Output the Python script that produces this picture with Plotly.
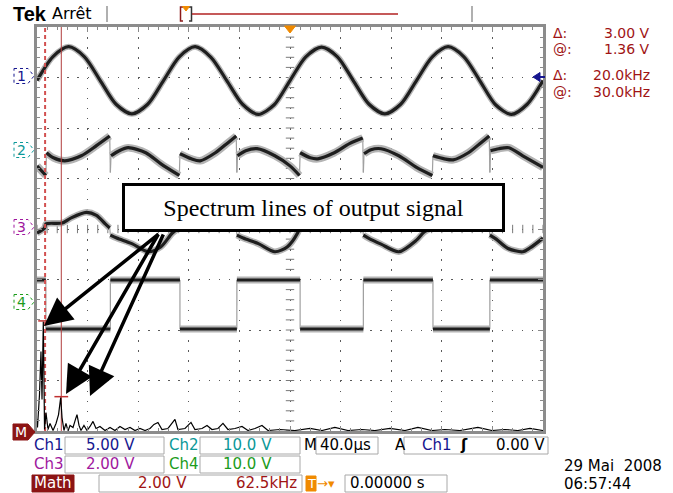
import numpy as np
import plotly.graph_objects as go

# ---------------- data read from the scope screen ----------------
# time base: microseconds (40 us/div, trigger at 0); vertical: screen divisions
t_ch1 = [-200, -187.5, -175, -162.5, -150, -137.5, -125, -112.5, -100, -87.5, -75, -62.5,
         -50, -37.5, -25, -12.5, 0, 12.5, 25, 37.5, 50, 62.5, 75, 87.5, 100, 112.5, 125,
         137.5, 150, 162.5, 175, 187.5, 200]
ch1_div = [2.94, 3.41, 3.61, 3.41, 2.94, 2.47, 2.28, 2.47, 2.94, 3.41, 3.61, 3.40,
           2.94, 2.47, 2.27, 2.46, 2.94, 3.41, 3.60, 3.41, 2.94, 2.47, 2.28, 2.47, 2.94,
           3.41, 3.61, 3.41, 2.94, 2.46, 2.27, 2.47, 2.94]

t_ch2 = [-200, -193, -192.5, -187, -178, -165, -153, -142.5, -142, -141.5, -135, -128, -114,
         -102, -87.5, -87, -78, -71, -59, -49, -42.5, -42, -41.5, -35, -26, -12, 0, 7.5, 8,
         16, 22, 35, 47, 57.5, 58, 58.5, 64, 72, 86, 100, 112.5, 113, 122, 129, 141, 151,
         157.5, 158, 158.5, 165, 173, 184, 200]
ch2_div = [1.25, 1.06, 1.51, 1.41, 1.35, 1.45, 1.65, 1.84, 1.12, 1.45, 1.55, 1.61, 1.51,
           1.29, 1.06, 1.49, 1.39, 1.35, 1.51, 1.71, 1.84, 1.12, 1.45, 1.55, 1.59, 1.45,
           1.25, 1.06, 1.51, 1.41, 1.39, 1.51, 1.69, 1.80, 1.12, 1.49, 1.57, 1.59, 1.45,
           1.22, 1.06, 1.45, 1.39, 1.37, 1.51, 1.71, 1.84, 1.12, 1.55, 1.59, 1.61, 1.45, 1.22]

t_ch3 = [-200, -194, -193, -180, -173, -161, -153, -146, -142.5, -142, -137, -125, -112,
         -102, -93, -87.5, -87, -80, -73, -61, -53, -46, -42.5, -42, -37, -25, -12, -2, 6,
         7.5, 8, 14, 21, 33, 41, 51, 57.5, 58, 62, 72, 86, 100, 106, 112.5, 113, 119, 126,
         138, 146, 153, 157.5, 158, 163, 172, 184, 190, 200]
ch3_div = [-0.08, 0.02, 0.10, 0.12, 0.22, 0.33, 0.27, 0.10, 0.02, -0.12, -0.18, -0.29, -0.45,
           -0.35, -0.08, 0.02, 0.10, 0.12, 0.22, 0.33, 0.27, 0.10, 0.02, -0.12, -0.18, -0.29,
           -0.45, -0.35, -0.08, 0.02, 0.10, 0.12, 0.22, 0.33, 0.27, 0.10, 0.02, -0.12, -0.18,
           -0.30, -0.45, -0.22, -0.06, 0.02, 0.10, 0.12, 0.22, 0.33, 0.27, 0.10, 0.02, -0.12,
           -0.20, -0.38, -0.45, -0.37, -0.18]

ch4_edges = [-193, -142, -87, -42, 8, 58, 113, 158]   # switching instants (us)
ch4_levels = [-1.01, -1.98]                            # high, low (div)

# Math = FFT of the output: frequency (kHz, 62.5 kHz/div), magnitude (V, 2 V/div)
fft_khz = [0, 0.6, 3.1, 4.9, 6.2, 7.8, 9.3, 11.1, 13.6, 16.1, 19.8, 23.5, 26.6, 29.3, 30.9,
           33.3, 35.8, 38.3, 40.8, 44.5, 47.5, 49.4, 51.9, 54.3, 58.0, 61.8, 65.5, 69.2, 72.9,
           77.8, 84.0, 90.2, 96.3, 102.5, 108.7, 114.9, 121.0, 127.2, 133.4, 139.6, 144.5,
           149.4, 154.4, 161.8, 170.4, 174.1, 182.8, 190.2, 195.1, 203.8, 210.0, 216.1, 223.5,
           229.7, 235.9, 244.5, 253.2, 260.6, 269.2, 277.9, 285.3, 300.1, 318.6, 337.2, 352.0,
           368.0, 384.1, 401.4, 417.4, 436.0, 454.5, 470.5, 487.8, 503.9, 522.4, 544.6, 561.9,
           578.0, 594.0, 608.9, 625]
fft_v = [0.46, 0.14, 1.45, 3.15, 1.25, 4.34, 0.06, 0.73, 0.06, 0.30, 0.02, 0.30, 0.65, 1.33,
         0.53, 0.02, 0.30, 0.00, 0.22, 0.14, 0.46, 0.65, 0.22, 0.02, 0.22, 0.02, 0.18, 0.38,
         0.10, 0.18, 0.02, 0.14, 0.02, 0.18, 0.06, 0.14, 0.02, 0.10, 0.02, 0.10, 0.26, 0.34,
         0.06, 0.10, 0.46, 0.06, 0.10, 0.34, 0.06, 0.10, 0.22, 0.06, 0.10, 0.30, 0.06, 0.10,
         0.18, 0.02, 0.10, 0.22, 0.02, 0.06, 0.02, 0.10, 0.02, 0.14, 0.02, 0.06, 0.02, 0.10,
         0.02, 0.14, 0.02, 0.06, 0.02, 0.14, 0.02, 0.06, 0.02, 0.10, 0.02]

cursor_khz = [10.0, 30.0]
cursor_v = [4.36, 1.36]

# ---------------- geometry helpers (pixel -> paper) ----------------
W, H = 673, 493
L, R, T, B = 37, 130, 27, 62
PW, PH = W - L - R, H - T - B


def PX(x):
    return (x - L) / PW


def PY(y):
    return (H - B - y) / PH


NAVY, TEAL, PURP, GREEN, DRED = '#16168f', '#0b9898', '#a0189e', '#1c9c1c', '#a01414'
FONT = 'DejaVu Sans'
HALO, CORE, EDGE = '#b4b4b4', '#1e1e1e', '#a0a0a0'

fig = go.Figure()

# graticule centre-line ticks
cy = np.arange(-4, 4.001, 0.2)
cx = np.arange(-200, 200.1, 8)
fig.add_trace(go.Scatter(x=np.zeros_like(cy), y=cy, mode='markers', hoverinfo='skip',
                         marker=dict(symbol='line-ew', size=6, line=dict(width=1, color='#7a7a7a'))))
fig.add_trace(go.Scatter(x=cx, y=np.zeros_like(cx), mode='markers', hoverinfo='skip',
                         marker=dict(symbol='line-ns', size=6, line=dict(width=1, color='#7a7a7a'))))


def split_jumps(t, v, gap=0.6):
    """Separate the slow (noisy) parts of a trace from its near-instant jumps."""
    px_, py_, jx, jy = [], [], [], []
    for i in range(len(t)):
        px_.append(t[i]); py_.append(v[i])
        if i + 1 < len(t) and t[i + 1] - t[i] <= gap:
            px_.append(None); py_.append(None)
            jx += [t[i], t[i + 1], None]; jy += [v[i], v[i + 1], None]
    return px_, py_, jx, jy


def trace(t, v, halo, core, shape='linear'):
    sx_, sy_, jx, jy = split_jumps(t, v)
    if jx:
        fig.add_trace(go.Scatter(x=jx, y=jy, mode='lines', hoverinfo='skip',
                                 line=dict(color=EDGE, width=1.2)))
    fig.add_trace(go.Scatter(x=sx_, y=sy_, mode='lines', hoverinfo='skip', connectgaps=False,
                             line=dict(color=HALO, width=halo, shape=shape, smoothing=0.8)))
    fig.add_trace(go.Scatter(x=sx_, y=sy_, mode='lines', hoverinfo='skip', connectgaps=False,
                             line=dict(color=CORE, width=core, shape=shape, smoothing=0.8)))


trace(t_ch1, ch1_div, 6, 3.2, 'spline')
trace(t_ch2, ch2_div, 7.5, 3.2, 'spline')
trace(t_ch3, ch3_div, 6.5, 3.2, 'spline')

# channel 4 square wave: levels (noisy) and thin edges
bounds = [-200] + ch4_edges + [200]
t4, v4 = [], []
for i in range(len(bounds) - 1):
    lv = ch4_levels[i % 2]
    t4 += [bounds[i] + (0.01 if i else 0), bounds[i + 1]]
    v4 += [lv, lv]
trace(t4, v4, 7, 3)

# FFT + cursors on the math axes
fig.add_trace(go.Scatter(x=cursor_khz[:1] * 2, y=[0, 16], mode='lines', xaxis='x2', yaxis='y2',
                         hoverinfo='skip', line=dict(color='#d25050', width=2, dash='4px,3px')))
fig.add_trace(go.Scatter(x=cursor_khz[1:] * 2, y=[0, 16], mode='lines', xaxis='x2', yaxis='y2',
                         hoverinfo='skip', line=dict(color='#b03c3c', width=1)))
fig.add_trace(go.Scatter(x=fft_khz, y=fft_v, mode='lines', xaxis='x2', yaxis='y2',
                         hoverinfo='skip', line=dict(color='#000000', width=1.2)))
for fc, vc in zip(cursor_khz, cursor_v):
    fig.add_trace(go.Scatter(x=[fc - 8.5, fc + 8.5], y=[vc, vc], mode='lines', xaxis='x2',
                             yaxis='y2', hoverinfo='skip', line=dict(color='#c03030', width=1.5)))

ann, shp = [], []


def txt(x, y, s, color='black', size=15, anchor='left', family=FONT, **kw):
    ann.append(dict(x=PX(x), y=PY(y), xref='paper', yref='paper', text=s, showarrow=False,
                    xanchor=anchor, yanchor='middle',
                    font=dict(family=family, size=size, color=color), **kw))


def rect(x0, y0, x1, y1, color='#a8a8a8', fill='rgba(0,0,0,0)', width=1):
    shp.append(dict(type='rect', xref='paper', yref='paper', x0=PX(x0), x1=PX(x1),
                    y0=PY(y1), y1=PY(y0), line=dict(color=color, width=width), fillcolor=fill))


def path(pts, color, fill='rgba(0,0,0,0)', width=1, close=True, dash='solid'):
    d = 'M ' + ' L '.join(f'{PX(a):.5f},{PY(b):.5f}' for a, b in pts) + (' Z' if close else '')
    shp.append(dict(type='path', xref='paper', yref='paper', path=d,
                    line=dict(color=color, width=width, dash=dash), fillcolor=fill))


def line(x0, y0, x1, y1, color, width=1):
    shp.append(dict(type='line', xref='paper', yref='paper', x0=PX(x0), x1=PX(x1),
                    y0=PY(y0), y1=PY(y1), line=dict(color=color, width=width)))


# top bar
txt(11, 14, '<b>Tek</b>', 'black', 20, family='Liberation Sans')
txt(50, 14, 'Arrêt', 'black', 16)
line(107, 6, 107, 22, '#b0b0b0', 2)
line(472, 6, 472, 22, '#b0b0b0', 2)
path([(183, 7), (180.5, 7), (180.5, 21), (183, 21)], '#8b1a1a', width=1.5, close=False)
path([(189, 7), (191.5, 7), (191.5, 21), (189, 21)], '#333333', width=1.5, close=False)
path([(182.5, 6.5), (189.5, 6.5), (186, 11)], '#f08a00', '#f08a00')
line(192, 14, 398, 14, '#b22222', 1.5)

# trigger position / level markers
path([(284.5, 26), (295.5, 26), (290, 33)], '#f08a00', '#f08a00')
path([(533, 77), (540, 72.5), (540, 81.5)], NAVY, NAVY)
line(539, 77, 545, 77, NAVY, 2)

# channel ground markers
for lbl, yc, col in [('1', 76, NAVY), ('2', 150, TEAL), ('3', 227, PURP), ('4', 302, GREEN)]:
    path([(14, yc - 7.5), (28, yc - 7.5), (34, yc), (28, yc + 7.5), (14, yc + 7.5)], col,
         'white', 1, dash='dot')
    txt(21.5, yc, lbl, col, 14, 'center')
path([(13, 424), (28, 424), (35, 432), (28, 440), (13, 440)], '#8c1414', '#8c1414')
txt(20.5, 432, 'M', 'white', 14, 'center')

# cursor readouts
dv = cursor_v[0] - cursor_v[1]
df = cursor_khz[1] - cursor_khz[0]
RS = 14
txt(551, 33, 'Δ:', DRED, RS)
txt(652, 33, f'{dv:.2f} V', DRED, RS, anchor='right')
txt(551, 49, '@:', DRED, RS)
txt(652, 49, f'{cursor_v[1]:.2f} V', DRED, RS, anchor='right')
txt(551, 75, 'Δ:', DRED, RS)
txt(652, 75, f'{df:.1f}kHz', DRED, RS, anchor='right')
txt(551, 92, '@:', DRED, RS)
txt(652, 92, f'{cursor_khz[1]:.1f}kHz', DRED, RS, anchor='right')

# bottom status area
rect(65, 437, 164, 454); rect(200, 437, 300, 454); rect(316, 437, 378, 454); rect(404, 437, 548, 454)
rect(65, 456, 164, 473); rect(200, 456, 300, 473)
rect(99, 475, 302, 492); rect(345, 475, 447, 492)
rect(32, 475, 74, 492, '#8c1414', '#8c1414')
rect(306, 476, 316, 491, '#f08a00', '#f08a00')
txt(32, 445, 'Ch1', NAVY); txt(84, 445, '5.00 V', NAVY)
txt(167, 445, 'Ch2', TEAL); txt(221, 445, '10.0 V', TEAL)
txt(302, 445, 'M'); txt(318, 445, '40.0µs')
txt(393, 445, 'A'); txt(420, 445, 'Ch1', NAVY); txt(458, 445, '<b>ʃ</b>'); txt(547, 445, '0.00 V', anchor='right')
txt(32, 464, 'Ch3', PURP); txt(84, 464, '2.00 V', PURP)
txt(167, 464, 'Ch4', GREEN); txt(221, 464, '10.0 V', GREEN)
txt(53, 483, 'Math', 'white', 15, 'center')
txt(136, 483, '2.00 V', DRED); txt(299, 483, '62.5kHz', DRED, anchor='right')
txt(311, 483, 'T', 'white', 13, 'center'); txt(315, 483, '→▾', '#f08a00', 13)
txt(348, 483, '0.00000 s')
txt(562, 466, '29 Mai\u00a0\u00a02008')
txt(562, 484, '06:57:44')

# callout box and arrows
ann.append(dict(x=PX(313.5), y=PY(207.5), xref='paper', yref='paper',
                text='Spectrum lines of output signal', showarrow=False, xanchor='center',
                yanchor='middle', width=377, height=43, bgcolor='white', bordercolor='black',
                borderwidth=3, borderpad=0,
                font=dict(family='Liberation Serif', size=24, color='black')))
for (tx, ty), (sx0, sy0) in [((44, 326), (160, 233)), ((66, 394), (159, 233)),
                             ((90, 396), (164, 233))]:
    ann.append(dict(x=PX(tx), y=PY(ty), xref='paper', yref='paper', text='', showarrow=True,
                    ax=sx0 - tx, ay=sy0 - ty, axref='pixel', ayref='pixel', arrowhead=2,
                    arrowsize=1.6, arrowwidth=3.5, arrowcolor='black', standoff=0))

fig.update_layout(
    width=W, height=H, margin=dict(l=L, r=R, t=T, b=B),
    paper_bgcolor='white', plot_bgcolor='white', showlegend=False,
    xaxis=dict(range=[-200, 200], dtick=40, tick0=0, showticklabels=False, ticks='inside',
               ticklen=5, tickcolor='#8a8a8a', showgrid=True, gridcolor='#5a5a5a', gridwidth=1,
               griddash='1.5px,8.6px', zeroline=False, showline=True, linecolor='#8c8c8c',
               linewidth=3, mirror='allticks', fixedrange=True,
               minor=dict(dtick=8, ticklen=3, tickcolor='#8a8a8a', ticks='inside', showgrid=False)),
    yaxis=dict(range=[-4, 4], dtick=1, tick0=0, showticklabels=False, ticks='inside',
               ticklen=5, tickcolor='#8a8a8a', showgrid=True, gridcolor='#5a5a5a', gridwidth=1,
               griddash='1.5px,8.6px', zeroline=False, showline=True, linecolor='#8c8c8c',
               linewidth=3, mirror='allticks', fixedrange=True,
               minor=dict(dtick=0.2, ticklen=3, tickcolor='#8a8a8a', ticks='inside', showgrid=False)),
    xaxis2=dict(overlaying='x', range=[0, 625], visible=False, fixedrange=True),
    yaxis2=dict(overlaying='y', range=[0, 16], visible=False, fixedrange=True),
    annotations=ann, shapes=shp,
)

fig.write_html('out.html', config={'displayModeBar': False},
               post_script="document.body.style.margin='0px';document.body.style.overflow='hidden';")
